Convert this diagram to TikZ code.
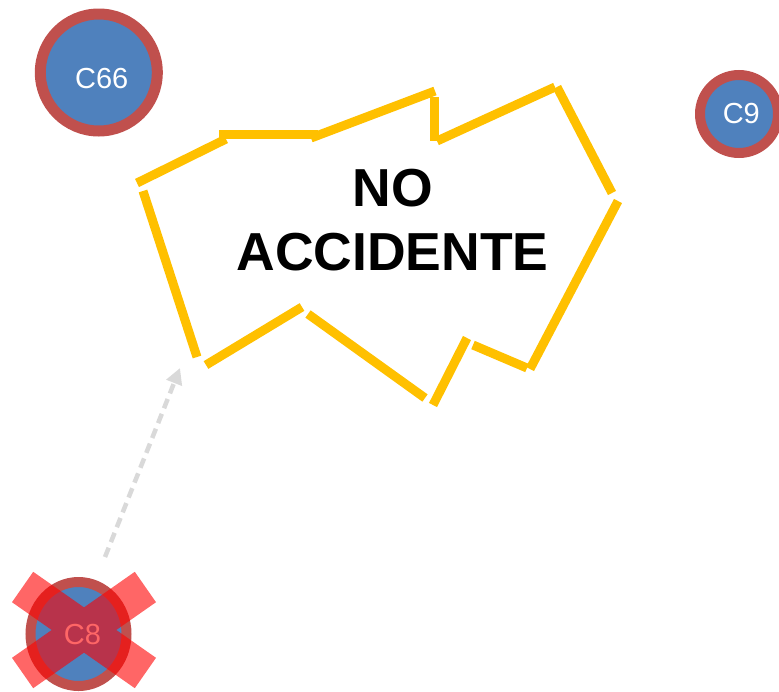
\documentclass[tikz,border=0pt]{standalone}
\usepackage{fontspec}
\setmainfont{Liberation Sans}
\usetikzlibrary{arrows.meta,shapes.geometric}
\definecolor{ringred}{HTML}{C0504D}
\definecolor{fillblue}{HTML}{4F81BD}
\definecolor{gold}{HTML}{FFC000}
\definecolor{arrowgray}{HTML}{D9D9D9}
\begin{document}
\begin{tikzpicture}[x=1pt,y=-1pt,
  ring/.style={draw=ringred, fill=fillblue, inner sep=0pt},
  ctext/.style={text=white, font=\fontsize{29}{34}\selectfont, inner sep=0pt},
  edge/.style={draw=gold, line width=9pt},
  conn/.style={draw=arrowgray, line width=4.5pt, dash pattern=on 10pt off 6pt, -{Triangle[length=16pt,width=16pt]}},
  cross/.style={fill=red, fill opacity=0.6}]
\useasboundingbox (0,0) rectangle (779,691);

% circles
\node[ring, circle, line width=11pt, minimum size=117pt] (c66) at (98.8,72.5) {};
\node[ctext] (c66t) at (101.7,78.3) {C66};
\node[ring, circle, line width=10pt, minimum size=78pt] (c9) at (739,114) {};
\node[ctext] (c9t) at (741.3,113.3) {C9};
\node[ring, ellipse, line width=10pt, minimum width=96pt, minimum height=104pt] (c8) at (78.5,634) {};
\node[ctext] (c8t) at (82.5,634.3) {C8};

% cross over C8
\fill[cross] (134.8,688.2) -- (156.0,657.8) -- (33.2,571.8) -- (12.0,602.2) -- cycle
             (156.0,602.2) -- (134.8,571.8) -- (12.0,657.8) -- (33.2,688.2) -- cycle;

% accident shape
\node[align=center, inner sep=0pt, font=\fontsize{53.5}{64}\selectfont\bfseries] (txt) at (392.5,220.5) {NO\\ACCIDENTE};
\draw[edge] (137,183) -- (226,139);
\draw[edge] (219,134) -- (318,134);
\draw[edge] (311,138) -- (435,91);
\draw[edge] (434,97) -- (434,141);
\draw[edge] (437,141) -- (555,87);
\draw[edge] (557,87) -- (612,193);
\draw[edge] (618,201) -- (530,369);
\draw[edge] (527,368) -- (473,345);
\draw[edge] (467,338) -- (433,405);
\draw[edge] (425,398) -- (308,314);
\draw[edge] (302,307) -- (206,365);
\draw[edge] (197,357) -- (143,191);

% connector
\coordinate (aS) at (105,557);
\coordinate (aE) at (180,368);
\draw[conn] (aS) -- (aE);
\end{tikzpicture}
\end{document}
